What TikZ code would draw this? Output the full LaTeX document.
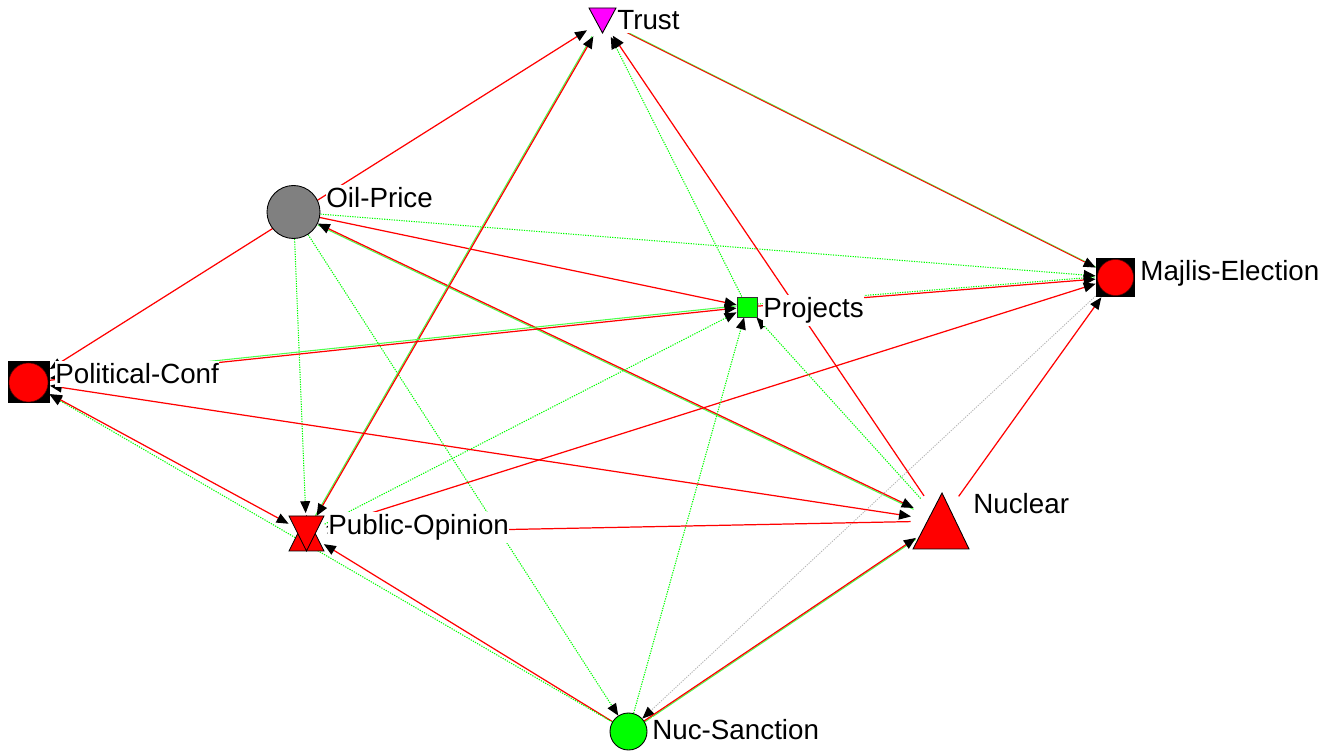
\documentclass[tikz,border=0pt]{standalone}
\usepackage{fontspec}
\setmainfont{Liberation Sans}
\usetikzlibrary{arrows.meta,backgrounds}
\definecolor{nodered}{HTML}{FF0000}
\definecolor{nodegreen}{HTML}{00FF00}
\definecolor{nodegray}{HTML}{808080}
\definecolor{nodemagenta}{HTML}{FF00FF}
\definecolor{tiegray}{HTML}{B4B4B4}

\tikzset{
  spot/.style={circle,inner sep=0pt,minimum size=#1},
  boxed/.style={rectangle,fill=black,inner sep=0pt,minimum size=#1},
  lbl/.style={anchor=base west,fill=white,inner xsep=0pt,inner ysep=1.5pt,font=\fontsize{15.8}{18}\selectfont},
  oneway/.style={-{Triangle[length=6.8pt,width=5.6pt,color=black]}},
  twoway/.style={{Triangle[length=6.8pt,width=5.6pt,color=black]}-{Triangle[length=6.8pt,width=5.6pt,color=black]}},
  redtie/.style={draw=nodered,line width=0.7pt},
  greentie/.style={draw=nodegreen,line width=0.6pt,dash pattern=on 0.7pt off 0.7pt},
  greenline/.style={draw=nodegreen!70!white,line width=0.6pt},
  graytie/.style={draw=tiegray,line width=0.5pt,dash pattern=on 0.7pt off 0.7pt}
}

\begin{document}
\begin{tikzpicture}
  \useasboundingbox (0,0) rectangle (26.48,15.02);

  % nodes
  \node[spot=0.72cm] (trust) at (12.05,14.61) {};
  \filldraw[fill=nodemagenta,draw=black,line width=0.5pt] (trust) ++(-0.27,0.25) -- ++(0.54,0) -- ++(-0.27,-0.5) -- cycle;
  \node[circle,fill=nodegray,draw=black,line width=0.5pt,inner sep=0pt,minimum size=1.06cm] (oilprice) at (5.87,10.78) {};
  \node[boxed=0.78cm] (majlis) at (22.31,9.47) {};
  \filldraw[fill=nodered,draw=black!60!red,line width=0.3pt] (majlis) circle (0.36);
  \node[rectangle,fill=nodegreen,draw=black!80,line width=0.5pt,inner sep=0pt,minimum size=0.4cm] (projects) at (14.94,8.88) {};
  \node[boxed=0.84cm] (polconf) at (0.57,7.37) {};
  \filldraw[fill=nodered,draw=black!60!red,line width=0.3pt] (polconf) circle (0.39);
  \node[spot=0.8cm] (pubop) at (6.13,4.35) {};
  \filldraw[fill=nodered,draw=black,line width=0.5pt] (pubop) ++(-0.35,-0.35) -- ++(0.7,0) -- ++(-0.35,0.7) -- cycle;
  \filldraw[fill=nodered,draw=black,line width=0.5pt] (pubop) ++(-0.35,0.35) -- ++(0.7,0) -- ++(-0.35,-0.7) -- cycle;
  \node[spot=1.2cm] (nuclear) at (18.82,4.60) {};
  \filldraw[fill=nodered,draw=black,line width=0.5pt] (nuclear) ++(-0.56,-0.56) -- ++(1.12,0) -- ++(-0.54,1.12) -- cycle;
  \node[circle,fill=nodegreen,draw=black,line width=0.5pt,inner sep=0pt,minimum size=0.74cm] (nucsanc) at (12.57,0.39) {};

  % ties
  \begin{pgfonlayer}{background}
    \draw[redtie,twoway] (polconf) -- (trust);
    \draw[greentie,oneway] (oilprice) -- (majlis);
    \draw[redtie,oneway] (oilprice) -- (projects);
    \draw[greenline,transform canvas={yshift=-0.8pt}] (oilprice) -- (nuclear);
    \draw[redtie,twoway] (oilprice) -- (nuclear);
    \draw[greentie,oneway] (oilprice) -- (pubop);
    \draw[greentie,oneway] (oilprice) -- (nucsanc);
    \draw[greenline,transform canvas={xshift=-0.8pt}] (pubop) -- (trust);
    \draw[redtie,twoway] (pubop) -- (trust);
    \draw[greentie,oneway] (projects) -- (trust);
    \draw[redtie,oneway] (nuclear) -- (trust);
    \draw[greenline,transform canvas={yshift=0.4pt}] (trust) -- (majlis);
    \draw[redtie,line width=0.5pt,oneway] (trust) -- (majlis);
    \draw[greenline,oneway,transform canvas={yshift=1.2pt}] (projects) -- (polconf);
    \draw[redtie,oneway] (polconf) -- (projects);
    \draw[greentie,transform canvas={yshift=1.2pt}] (projects) -- (majlis);
    \draw[redtie,oneway] (projects) -- (majlis);
    \draw[greentie,oneway] (pubop) -- (projects);
    \draw[redtie,twoway] (pubop) -- (majlis);
    \draw[greentie,oneway] (nucsanc) -- (projects);
    \draw[greentie,oneway] (nuclear) -- (projects);
    \draw[redtie,oneway] (nuclear) -- (majlis);
    \draw[graytie,oneway] (majlis) -- (nucsanc);
    \draw[greenline,transform canvas={yshift=-0.8pt}] (nucsanc) -- (nuclear);
    \draw[redtie,oneway] (nucsanc) -- (nuclear);
    \draw[redtie,oneway] (nucsanc) -- (pubop);
    \draw[greentie,oneway] (nucsanc) -- (polconf);
    \draw[redtie,twoway] (polconf) -- (pubop);
    \draw[redtie,twoway] (polconf) -- (nuclear);
    \draw[redtie,oneway] (nuclear) -- (pubop);
  \end{pgfonlayer}

  % labels
  \node[lbl] (trustlbl) at (12.34,14.42) {Trust};
  \node[lbl] (oilpricelbl) at (6.52,10.86) {Oil-Price};
  \node[lbl] (majlislbl) at (22.80,9.40) {Majlis-Election};
  \node[lbl] (projectslbl) at (15.26,8.66) {Projects};
  \node[lbl] (polconflbl) at (1.10,7.34) {Political-Conf};
  \node[lbl] (puboplbl) at (6.56,4.32) {Public-Opinion};
  \node[lbl] (nuclearlbl) at (19.46,4.74) {Nuclear};
  \node[lbl] (nucsanclbl) at (13.04,0.22) {Nuc-Sanction};
\end{tikzpicture}
\end{document}
